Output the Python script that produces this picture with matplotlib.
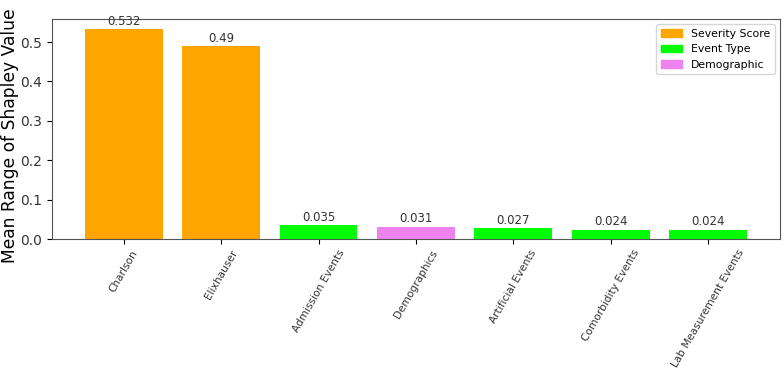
import matplotlib.pyplot as plt
from matplotlib.patches import Patch

features = ['Charlson', 'Elixhauser', 'Admission Events', 'Demographics',
            'Artificial Events', 'Comorbidity Events', 'Lab Measurement Events']
values = [0.532, 0.49, 0.035, 0.031, 0.027, 0.024, 0.024]
groups = ['Severity Score', 'Severity Score', 'Event Type', 'Demographic',
          'Event Type', 'Event Type', 'Event Type']

group_colors = {'Severity Score': 'orange', 'Event Type': 'lime', 'Demographic': 'violet'}

fig = plt.figure(figsize=(7.84, 3.72), dpi=100)
ax = fig.add_axes([0.066, 0.3575, 0.929, 0.5915])

bars = ax.bar(features, values, width=0.8, color=[group_colors[g] for g in groups])
ax.bar_label(bars, labels=[str(v) for v in values], fontsize=8.5, color='#333333', padding=1)

ax.set_ylabel('Mean Range of Shapley Value', fontsize=12.3, labelpad=3)
# nudge the label down a little so its top stays inside the figure
ax.yaxis.set_label_coords(-0.045, 0.47)
ax.tick_params(axis='y', labelsize=10, labelcolor='#333333')
ax.tick_params(axis='x', labelsize=7.6, labelrotation=60, labelcolor='#333333', pad=3)
for lbl in ax.get_xticklabels():
    lbl.set_ha('center')

# legend built from the group colours
handles = [Patch(color=c, label=g) for g, c in group_colors.items()]
ax.legend(handles=handles, loc='upper right', fontsize=7.8)

for s in ax.spines.values():
    s.set_color('#555555')

fig.savefig('out.png', dpi=100)
